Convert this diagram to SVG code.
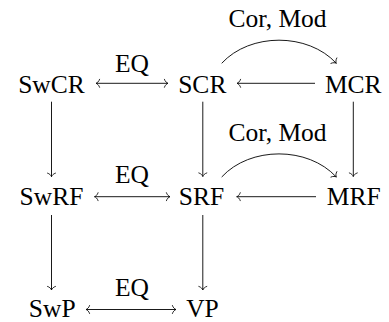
<svg xmlns="http://www.w3.org/2000/svg" width="389" height="322" viewBox="0 0 389 322">
  <style>
    .n { font-family: "Liberation Serif", "Times New Roman", serif; font-size: 25.5px; fill: #000; text-anchor: middle; }
    .l { font-family: "Liberation Serif", "Times New Roman", serif; font-size: 25.5px; fill: #000; text-anchor: middle; }
    .e { stroke: #000; stroke-width: 0.9; fill: none; }
  </style>
  <defs>
    <marker id="to" markerUnits="userSpaceOnUse" viewBox="-5 -5 6 10" refX="0" refY="0" markerWidth="6" markerHeight="10" orient="auto-start-reverse" overflow="visible">
      <path d="M-3.6,-4 C-2.9,-1.6 -1.1,-0.4 0,0 C-1.1,0.4 -2.9,1.6 -3.6,4" stroke="#000" stroke-width="0.8" fill="none" stroke-linecap="round"/>
    </marker>
  </defs>
  <rect width="389" height="322" fill="#fff"/>
  <g id="connectors">
    <line class="e" x1="96" y1="83.3" x2="168" y2="83.3" marker-start="url(#to)" marker-end="url(#to)"/>
    <line class="e" x1="315" y1="83.3" x2="237" y2="83.3" marker-end="url(#to)"/>
    <line class="e" x1="94.5" y1="196.7" x2="170" y2="196.7" marker-start="url(#to)" marker-end="url(#to)"/>
    <line class="e" x1="316" y1="196.7" x2="236.7" y2="196.7" marker-end="url(#to)"/>
    <line class="e" x1="86" y1="309.5" x2="176" y2="309.5" marker-start="url(#to)" marker-end="url(#to)"/>
    <line class="e" x1="51.5" y1="101.7" x2="51.5" y2="176.7" marker-end="url(#to)"/>
    <line class="e" x1="202.8" y1="101.7" x2="202.8" y2="176.5" marker-end="url(#to)"/>
    <line class="e" x1="353.3" y1="101.7" x2="353.3" y2="176.5" marker-end="url(#to)"/>
    <line class="e" x1="51.5" y1="215" x2="51.5" y2="290" marker-end="url(#to)"/>
    <line class="e" x1="202.8" y1="215" x2="202.8" y2="290" marker-end="url(#to)"/>
    <path class="e" d="M221.7,63.3 C250,32.5 308,32.5 336.3,63.3" marker-end="url(#to)"/>
    <path class="e" d="M221.7,177 C250,146.2 308,146.2 336.3,177" marker-end="url(#to)"/>
    <text class="l" x="132" y="71.7">EQ</text>
    <text class="l" x="132" y="182.7">EQ</text>
    <text class="l" x="132" y="296">EQ</text>
    <text class="l" x="277.5" y="27.3">Cor, Mod</text>
    <text class="l" x="277.5" y="140.5">Cor, Mod</text>
  </g>
  <g id="SwCR"><text class="n" x="51.5" y="92.5">SwCR</text></g>
  <g id="SCR"><text class="n" x="202.3" y="92.5">SCR</text></g>
  <g id="MCR"><text class="n" x="353.3" y="92.5">MCR</text></g>
  <g id="SwRF"><text class="n" x="51.5" y="205.3">SwRF</text></g>
  <g id="SRF"><text class="n" x="201.5" y="205.3">SRF</text></g>
  <g id="MRF"><text class="n" x="353.8" y="205.3">MRF</text></g>
  <g id="SwP"><text class="n" x="52.2" y="317.3">SwP</text></g>
  <g id="VP"><text class="n" x="202.5" y="317.3">VP</text></g>
</svg>
